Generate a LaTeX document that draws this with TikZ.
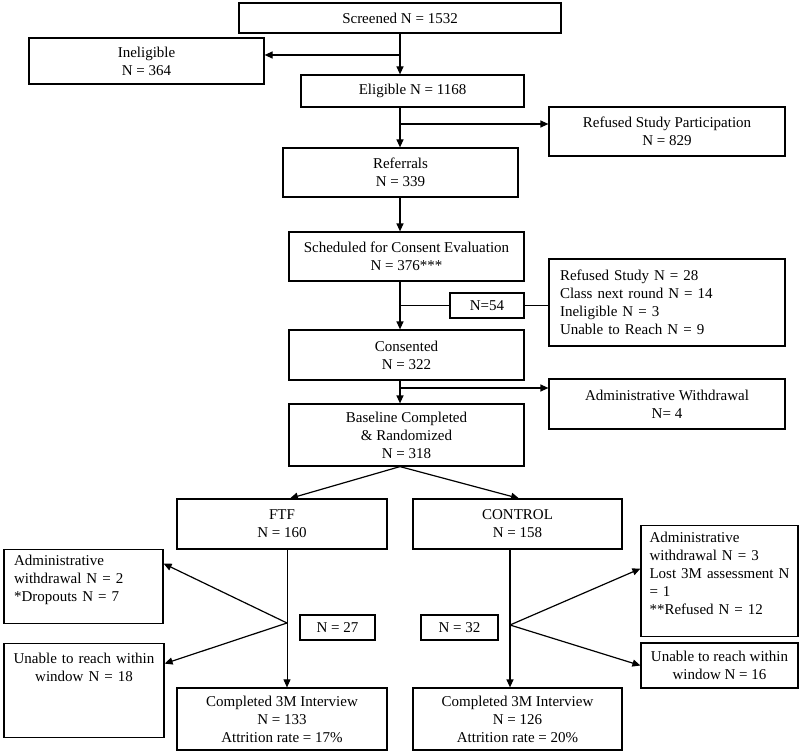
\documentclass[tikz,border=0pt]{standalone}
\usepackage{fontspec}
\setmainfont{Liberation Serif}
\usepackage{tikz}
\usetikzlibrary{arrows.meta}

\begin{document}
\begin{tikzpicture}[x=1pt, y=-1pt,
  box/.style={draw, line width=1.2pt, inner sep=0pt, align=center, font=\fontsize{15}{18}\selectfont},
  arr/.style={-{Triangle[length=8pt, width=7pt]}, line width=1.2pt},
  link/.style={line width=1.2pt}]

  \def\spinex{400}
  \def\ftfx{287}
  \def\ctrlx{510}

  \useasboundingbox (0,0) rectangle (800,754);

  % main column
  \node[box, minimum width=322pt, minimum height=30pt] (screened) at (400,18) {Screened N = 1532};
  \node[box, minimum width=235pt, minimum height=46pt] (inelig) at (146.5,61) {Ineligible\\N = 364};
  \node[box, minimum width=223pt, minimum height=32pt] (elig) at (412.5,91) {Eligible N = 1168};
  \node[box, minimum width=236pt, minimum height=49pt] (refused) at (667,131.5) {Refused Study Participation\\N = 829};
  \node[box, minimum width=235pt, minimum height=49pt] (referrals) at (400.5,172.5) {Referrals\\N = 339};
  \node[box, minimum width=235pt, minimum height=49pt] (sched) at (406.5,256.5) {Scheduled for Consent Evaluation\\N = 376***};
  \node[box, minimum width=74pt, minimum height=25pt] (n54) at (487,305.5) {N=54};
  \node[box, align=left, text width=214pt, inner xsep=11pt, minimum height=87pt] (reasons) at (667,302.5)
    {Refused Study N = 28\\Class next round N = 14\\Ineligible N = 3\\Unable to Reach N = 9};
  \node[box, minimum width=235pt, minimum height=50pt] (consented) at (406.5,355) {Consented\\N = 322};
  \node[box, minimum width=236pt, minimum height=50pt] (admwd) at (667,404) {Administrative Withdrawal\\N= 4};
  \node[box, minimum width=235pt, minimum height=62pt] (baseline) at (406.5,435) {Baseline Completed\\\& Randomized\\N = 318};

  % arms
  \node[box, minimum width=210pt, minimum height=50pt] (ftf) at (282,524) {FTF\\N = 160};
  \node[box, minimum width=209pt, minimum height=50pt] (control) at (517.5,524) {CONTROL\\N = 158};

  \node[box, anchor=north, align=left, text width=139pt, inner xsep=10pt, inner ysep=3pt,
    text height=13pt, text depth=55pt] (ftfadm) at (83.5,549)
    {Administrative\\withdrawal N = 2\\{}*Dropouts N = 7};
  \node[box, anchor=north, text width=150pt, inner xsep=5pt, inner ysep=3pt,
    text height=17pt, text depth=71pt] (ftfunable) at (84,643)
    {Unable to reach within\\window N = 18};
  \node[box, minimum width=75pt, minimum height=25pt] (ftfn) at (337.5,627.5) {N = 27};

  \node[box, anchor=north, align=left, text width=140pt, inner xsep=8.5pt, inner ysep=4pt,
    text height=13pt, text depth=90pt] (ctrladm) at (719.5,525)
    {Administrative\\withdrawal N = 3\\Lost 3M assessment N\\= 1\\{}**Refused N = 12};
  \node[box, minimum width=157pt, minimum height=45pt] (ctrlunable) at (719.5,665.5) {Unable to reach within\\window N = 16};
  \node[box, minimum width=77pt, minimum height=25pt] (ctrln) at (459.5,627.5) {N = 32};

  \node[box, minimum width=210pt, minimum height=62pt] (ftfdone) at (282,719) {Completed 3M Interview\\N = 133\\Attrition rate = 17\%};
  \node[box, minimum width=209pt, minimum height=62pt] (ctrldone) at (517.5,719) {Completed 3M Interview\\N = 126\\Attrition rate = 20\%};

  % spine arrows
  \coordinate (spine) at (\spinex,0);
  \draw[arr] (screened.south -| spine) -- (elig.north -| spine);
  \coordinate (s1) at (\spinex,55);
  \draw[arr] (s1) -- (s1 -| inelig.east);
  \draw[arr] (elig.south -| spine) -- (referrals.north -| spine);
  \coordinate (s2) at (\spinex,124);
  \draw[arr] (s2) -- (s2 -| refused.west);
  \draw[arr] (referrals.south -| spine) -- (sched.north -| spine);
  \draw[arr] (sched.south -| spine) -- (consented.north -| spine);
  \draw[link] (n54.west -| spine) -- (n54.west);
  \draw[link] (n54.east) -- (n54.east -| reasons.west);
  \draw[arr] (consented.south -| spine) -- (baseline.north -| spine);
  \coordinate (s3) at (\spinex,388);
  \draw[arr] (s3) -- (s3 -| admwd.west);

  % randomization
  \draw[arr] (baseline.south -| spine) -- ([xshift=8pt]ftf.north);
  \draw[arr] (baseline.south -| spine) -- ([xshift=1.5pt]control.north);

  % FTF arm
  \coordinate (fspine) at (\ftfx,0);
  \draw[link, -{Triangle[length=8pt, width=7pt]}, line width=0.9pt] (ftf.south -| fspine) -- (ftfdone.north -| fspine);
  \coordinate (f1) at (\ftfx,623);
  \draw[arr] (f1) -- ([yshift=23pt]ftfadm.east);
  \draw[arr] (f1) -- ([yshift=27pt]ftfunable.east);

  % control arm
  \coordinate (cspine) at (\ctrlx,0);
  \draw[arr] (control.south -| cspine) -- (ctrldone.north -| cspine);
  \coordinate (c1) at (\ctrlx,625);
  \draw[arr] (c1) -- ([yshift=12.5pt]ctrladm.west);
  \draw[arr] (c1) -- (ctrlunable.west);

\end{tikzpicture}
\end{document}
